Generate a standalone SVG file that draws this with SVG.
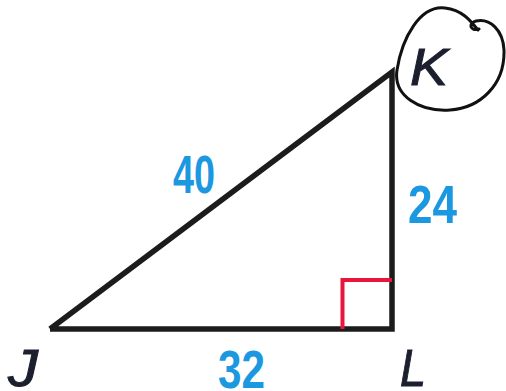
<svg xmlns="http://www.w3.org/2000/svg" width="506" height="391" viewBox="0 0 506 391">
<style>
.edge{fill:none;stroke:#1c1c1c;stroke-width:5.5;stroke-linejoin:miter}
.num{font-family:"Liberation Sans",Arial,sans-serif;font-weight:bold;fill:#1b98e0;font-size:54px}
.vtx{font-family:"Liberation Sans",Arial,sans-serif;font-style:italic;fill:#1c1f2e;stroke:#1c1f2e;stroke-width:1;font-size:52px}
</style>
<rect width="506" height="391" fill="#fff"/>
<g id="connectors">
<polyline class="edge" points="50,329 392,329 392,72 50,329"/>
<path d="M342.5,329 V280 H392" fill="none" stroke="#e8163c" stroke-width="4"/>
</g>
<g id="triangle-labels">
<text class="num" x="173" y="193" textLength="42" lengthAdjust="spacingAndGlyphs">40</text>
<text class="num" x="408" y="223" textLength="49" lengthAdjust="spacingAndGlyphs">24</text>
<text class="num" x="218" y="388" textLength="47" lengthAdjust="spacingAndGlyphs">32</text>
</g>
<g id="J"><text class="vtx" x="8" y="386" textLength="30" lengthAdjust="spacingAndGlyphs">J</text></g>
<g id="L"><text class="vtx" x="400" y="386" textLength="26" lengthAdjust="spacingAndGlyphs">L</text></g>
<g id="K"><text class="vtx" x="410" y="85" textLength="38" lengthAdjust="spacingAndGlyphs">K</text>
<path d="M478,30 C470,20 462,10 445,8 C420,5 402,38 397,70 C393,96 420,112 450,110 C480,108 505,85 504,50 C503,30 490,18 476,21 C468,23 470,32 479,29" fill="none" stroke="#111" stroke-width="3" stroke-linecap="round"/>
</g>
</svg>
